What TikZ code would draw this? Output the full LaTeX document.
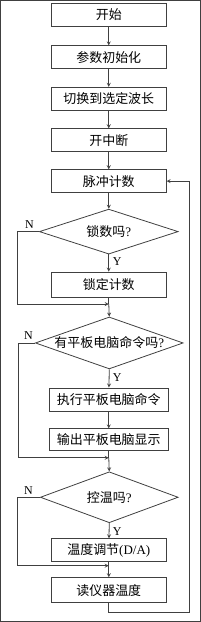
\documentclass[tikz,border=0pt]{standalone}
\usepackage{fontspec}
\setmainfont{Liberation Serif}
\newfontfamily\cjk{Noto Sans CJK SC}
\usepackage{tikz}
\usetikzlibrary{shapes.geometric}

\begin{document}
\begin{tikzpicture}[
    x=1pt, y=-1pt,
    box/.style={rectangle, draw=black!75, line width=0.8pt, minimum width=115pt, minimum height=23pt, inner sep=0pt, font=\cjk\fontsize{13}{15}\selectfont},
    decision/.style={diamond, draw=black!75, line width=0.8pt, aspect=3, inner sep=0pt, font=\cjk\fontsize{13}{15}\selectfont},
    yn/.style={inner sep=0pt, font=\fontsize{12}{14}\selectfont},
    every path/.style={line width=0.8pt, draw=black!75},
    >=stealth
]
  \useasboundingbox (0,0) rectangle (200,622);

  % Initialisation boxes (top)
  \node[box] (start) at (108.5,14.5)  {开始};
  \node[box] (init)  at (108.5,57)    {参数初始化};
  \node[box] (wave)  at (108.5,98.5)  {切换到选定波长};
  \node[box] (intr)  at (108.5,140)   {开中断};
  \node[box] (count) at (108.5,181)   {脉冲计数};

  \draw[->] (start)--(init);
  \draw[->] (init)--(wave);
  \draw[->] (wave)--(intr);
  \draw[->] (intr)--(count);

  % Lock decision
  \node[decision, minimum width=139pt, minimum height=45pt] (lockq) at (108.5,231.5) {锁数吗{\rmfamily ?}};
  \node[box, minimum height=25pt] (lock) at (108.5,284.5) {锁定计数};
  \coordinate (m1) at (108.5,304);
  \coordinate (n1) at (17,231.5);
  \coordinate (n1b) at (17,304);
  \node[yn] (n1lbl) at (29,224) {N};
  \node[yn] (y1lbl) at (117,262) {Y};

  \draw[->] (count)--(lockq);
  \draw[->] (lockq)--(lock);
  \draw (lock)--(m1);
  \draw[->] (lockq.west)--(n1)--(n1b)--(m1);

  % Tablet command decision
  \node[decision, minimum width=148pt, minimum height=52pt] (cmdq) at (109,343) {有平板电脑命令吗{\rmfamily ?}};
  \node[box, minimum width=119pt, minimum height=24pt] (exec) at (108.5,400) {执行平板电脑命令};
  \node[box, minimum width=119pt, minimum height=22pt] (show) at (108.5,440) {输出平板电脑显示};
  \coordinate (m2) at (108.5,458);
  \coordinate (n2) at (18,343);
  \coordinate (n2b) at (18,458);
  \node[yn] (n2lbl) at (28,336) {N};
  \node[yn] (y2lbl) at (117,378) {Y};

  \draw[->] (m1)--(cmdq.north);
  \draw[->] (cmdq.south)--(exec);
  \draw[->] (exec)--(show);
  \draw (show)--(m2);
  \draw[->] (cmdq.west)--(n2)--(n2b)--(m2);

  % Temperature decision
  \node[decision, minimum width=138pt, minimum height=51pt] (tempq) at (109,497.5) {控温吗{\rmfamily ?}};
  \node[box] (adj)  at (108.5,550.5) {温度调节{\rmfamily (D/A)}};
  \node[box, minimum height=25pt] (read) at (108.5,590.5) {读仪器温度};
  \coordinate (m3) at (108.5,566);
  \coordinate (n3) at (17,497.5);
  \coordinate (n3b) at (17,566);
  \node[yn] (n3lbl) at (28,491) {N};
  \node[yn] (y3lbl) at (117,532) {Y};

  \draw[->] (m2)--(tempq.north);
  \draw[->] (tempq.south)--(adj);
  \draw (adj)--(m3);
  \draw[->] (tempq.west)--(n3)--(n3b)--(m3);
  \draw[->] (m3)--(read);

  % Loop back to pulse counting
  \coordinate (lp1) at (108.5,613);
  \coordinate (lp2) at (189,613);
  \coordinate (lp3) at (189,181);
  \draw[->] (read)--(lp1)--(lp2)--(lp3)--(count.east);
\end{tikzpicture}
\end{document}
